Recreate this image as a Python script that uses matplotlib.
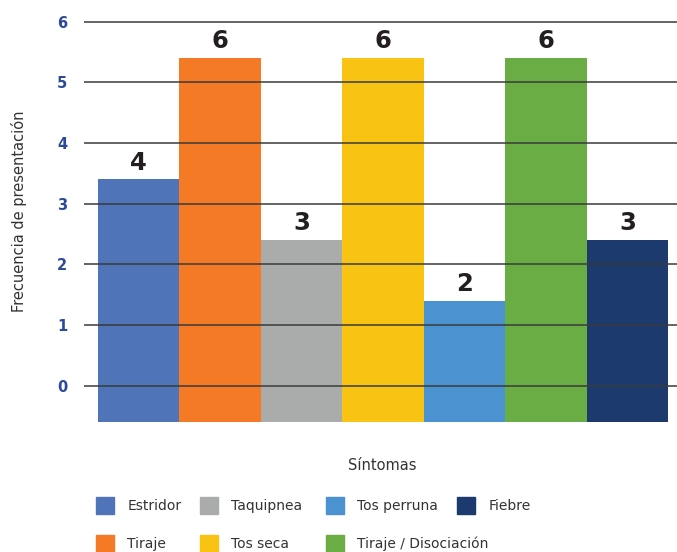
import matplotlib.pyplot as plt
from matplotlib import patches

sintomas = ['Estridor', 'Tiraje', 'Taquipnea', 'Tos seca',
            'Tos perruna', 'Tiraje / Disociación', 'Fiebre']
frecuencia = [4, 6, 3, 6, 2, 6, 3]
colores = ['#4f74b8', '#f47a25', '#aaacab', '#f8c312',
           '#4b93d0', '#6aad45', '#1c3a6e']
yticks = [0, 1, 2, 3, 4, 5, 6]

BASE = -0.6
FONT = 'DejaVu Sans'


def main():
    plt.rcParams['font.family'] = FONT
    fig = plt.figure(figsize=(6.77, 5.52), dpi=100)
    ax = fig.add_axes([84 / 677, 130 / 552, 593 / 677, 422 / 552])

    x = list(range(len(sintomas)))
    ax.bar(x, frecuencia, width=1.0, bottom=BASE, color=colores, zorder=1)
    for xi, v in zip(x, frecuencia):
        ax.text(xi, BASE + v + 0.08, str(v), ha='center', va='bottom',
                fontsize=17.5, fontweight='bold', color='#231f20',
                family='DejaVu Sans')

    ax.set_xlim(-0.672, 6.61)
    ax.set_ylim(BASE, 6.36)
    ax.set_yticks(yticks)
    ax.set_xticks([])
    ax.tick_params(axis='y', length=0, pad=12, labelsize=10.5,
                   labelcolor='#2b4a9b')
    for lbl in ax.get_yticklabels():
        lbl.set_fontweight('bold')
    ax.grid(axis='y', color='#3a3a3a', linewidth=1.1)
    ax.set_axisbelow(False)
    for s in ax.spines.values():
        s.set_visible(False)

    ax.set_ylabel('Frecuencia de presentación', fontsize=10.5,
                  color='#333333', labelpad=22)
    fig.text(382 / 677, 1 - 465 / 552, 'Síntomas', ha='center', va='center',
             fontsize=10.5, color='#333333')

    handles = [patches.Patch(color=c) for c in colores]
    col_x = [96, 200, 326, 457]
    for c, x0 in enumerate(col_x):
        h = handles[2 * c:2 * c + 2]
        l = sintomas[2 * c:2 * c + 2]
        fig.legend(h, l, loc='upper left',
                   bbox_to_anchor=(x0 / 677, 1 - 497 / 552),
                   frameon=False, fontsize=10, handlelength=1.3,
                   handleheight=1.55, handletextpad=0.95, labelspacing=1.45,
                   borderpad=0, borderaxespad=0, labelcolor='#333333')

    fig.savefig('out.png', dpi=100)


if __name__ == '__main__':
    main()
